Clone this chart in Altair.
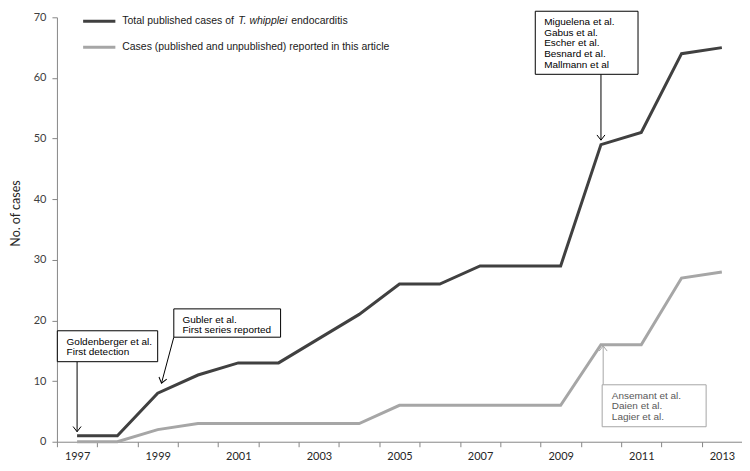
import altair as alt
import pandas as pd

# ---- data ----
years = list(range(1997, 2014))
total_cases = [1, 1, 8, 11, 13, 13, 17, 21, 26, 26, 29, 29, 29, 49, 51, 64, 65]
article_cases = [0, 0, 2, 3, 3, 3, 3, 3, 6, 6, 6, 6, 6, 16, 16, 27, 28]

series_names = ["Total published cases of T. whipplei endocarditis",
                "Cases (published and unpublished) reported in this article"]
colors = ["#404040", "#a6a6a6"]

# annotation boxes (data units: year, cases)
box_x1 = [1996.51, 1999.40, 2008.37, 2010.03]
box_x2 = [1999.00, 2002.05, 2010.92, 2012.61]
box_y1 = [13.2, 17.24, 60.6, 2.47]
box_y2 = [18.3, 21.91, 71.0, 9.39]
box_stroke = ["#000000", "#000000", "#000000", "#a6a6a6"]

note_lines = [
    ["Goldenberger et al.", "First detection"],
    ["Gubler et al.", "First series reported"],
    ["Miguelena et al.", "Gabus et al.", "Escher et al.", "Besnard et al.", "Mallmann et al"],
    ["Ansemant et al.", "Daien et al.", "Lagier et al."],
]
note_x = [1996.74, 1999.615, 2008.59, 2010.27]
note_y0 = [16.52, 20.09, 69.23, 7.58]
note_step = [1.75, 1.70, 1.77, 1.75]
note_color = ["#000000", "#000000", "#000000", "#595959"]

# arrows (start -> tip)
arr_x1 = [1997.0, 1999.40, 2010.0, 2010.055]
arr_y1 = [13.2, 17.24, 60.6, 9.39]
arr_x2 = [1997.0, 1999.095, 2010.0, 2010.055]
arr_y2 = [1.65, 9.67, 49.74, 15.81]
arr_angle = [0, 15, 0, 180]
arr_color = ["#000000", "#000000", "#000000", "#a6a6a6"]

# legend (data units)
leg_line_x1 = [1997.15, 1997.15]
leg_line_x2 = [1997.95, 1997.95]
leg_y = [69.34, 65.06]
leg_text_x = 1998.12

# ---- tables ----
lines_df = pd.DataFrame({
    "year": years * 2,
    "cases": total_cases + article_cases,
    "series": [series_names[0]] * len(years) + [series_names[1]] * len(years),
})
boxes_df = pd.DataFrame({"x1": box_x1, "x2": box_x2, "y1": box_y1, "y2": box_y2, "c": box_stroke})
notes_rows = []
for i, ls in enumerate(note_lines):
    for j, t in enumerate(ls):
        notes_rows.append({"x": note_x[i], "y": note_y0[i] - j * note_step[i], "t": t, "c": note_color[i]})
notes_df = pd.DataFrame(notes_rows)
arrows_df = pd.DataFrame({"x1": arr_x1, "y1": arr_y1, "x2": arr_x2, "y2": arr_y2,
                          "a": arr_angle, "c": arr_color})
leg_df = pd.DataFrame({"x1": leg_line_x1, "x2": leg_line_x2, "y": leg_y, "c": colors})

xscale = alt.Scale(domain=[1996.5, 2013.5], nice=False, zero=False)
yscale = alt.Scale(domain=[0, 70], nice=False)

label_font = "Lato"
axis_color = "#868686"

x_axis = alt.Axis(
    values=[1996.5 + i for i in range(18)],
    labelExpr="(datum.value - 1996.5) % 2 == 0 && datum.value < 2013 ? format(datum.value + 0.5, 'd') : ''",
    labelOffset=20.2, labelFlush=False, labelOverlap=False, grid=False,
    tickSize=5, tickColor=axis_color, domainColor=axis_color,
    labelFont=label_font, labelFontSize=11, labelColor="#262626", labelPadding=4,
    title=None,
)
y_axis = alt.Axis(
    values=list(range(0, 71, 10)), grid=False, tickSize=5, tickColor=axis_color,
    domainColor=axis_color, labelFont=label_font, labelFontSize=11, labelColor="#404040",
    labelPadding=6, title="No. of cases", titleFont=label_font, titleFontSize=12.5,
    titleFontWeight="normal", titleColor="#262626", titleAngle=-90,
    titleBaseline="middle", titleAlign="center", titleX=-41, titleY=196,
)


def X(field):
    return alt.X(field, scale=xscale, axis=x_axis)


def Y(field):
    return alt.Y(field, scale=yscale, axis=y_axis)


lines = alt.Chart(lines_df).mark_line(strokeWidth=3, strokeJoin="miter").encode(
    x=X("year:Q"),
    y=Y("cases:Q"),
    color=alt.Color("series:N", scale=alt.Scale(domain=series_names, range=colors), legend=None),
)

boxes = alt.Chart(boxes_df).mark_rect(fill="white", strokeWidth=1).encode(
    x=X("x1:Q"), x2="x2:Q",
    y=Y("y1:Q"), y2="y2:Q",
    stroke=alt.Stroke("c:N", scale=None),
)

notes = alt.Chart(notes_df).mark_text(align="left", baseline="middle",
                                      font="Liberation Sans", fontSize=10).encode(
    x=X("x:Q"),
    y=Y("y:Q"),
    text="t:N",
    color=alt.Color("c:N", scale=None),
)

arrow_shafts = alt.Chart(arrows_df).mark_rule(strokeWidth=1).encode(
    x=X("x1:Q"), x2="x2:Q",
    y=Y("y1:Q"), y2="y2:Q",
    color=alt.Color("c:N", scale=None),
)
arrow_heads = alt.Chart(arrows_df).mark_point(
    shape="M-1,-1.3L0,0L1,-1.3", filled=False, size=64, strokeWidth=1, opacity=1
).encode(
    x=X("x2:Q"),
    y=Y("y2:Q"),
    angle=alt.Angle("a:Q", scale=None),
    color=alt.Color("c:N", scale=None),
)

leg_lines = alt.Chart(leg_df).mark_rule(strokeWidth=3).encode(
    x=X("x1:Q"), x2="x2:Q",
    y=Y("y:Q"),
    color=alt.Color("c:N", scale=None),
)
leg_parts = [
    (leg_y[0], "Total published cases of", 0.0, "normal"),
    (leg_y[0], "T. whipplei", 116.1, "italic"),
    (leg_y[0], "endocarditis", 169.2, "normal"),
    (leg_y[1], "Cases (published and unpublished) reported in this article", 0.0, "normal"),
]
leg_texts = []
for yv, txt, dxv, style in leg_parts:
    leg_texts.append(
        alt.Chart(pd.DataFrame({"x": [leg_text_x], "y": [yv], "t": [txt]})).mark_text(
            align="left", baseline="middle", font="Liberation Sans", fontSize=10.5,
            color="#1a1a1a", dx=dxv, fontStyle=style,
        ).encode(x=X("x:Q"), y=Y("y:Q"), text="t:N")
    )

chart = alt.layer(lines, arrow_shafts, arrow_heads, boxes, notes, leg_lines, *leg_texts).properties(
    width=686, height=425,
    padding={"left": 49, "top": 9, "right": 0, "bottom": 30},
    autosize=alt.AutoSizeParams(type="none"),
    background="white",
).configure_view(stroke=None)

chart.save("out.html", embed_options={"renderer": "svg", "actions": False})
